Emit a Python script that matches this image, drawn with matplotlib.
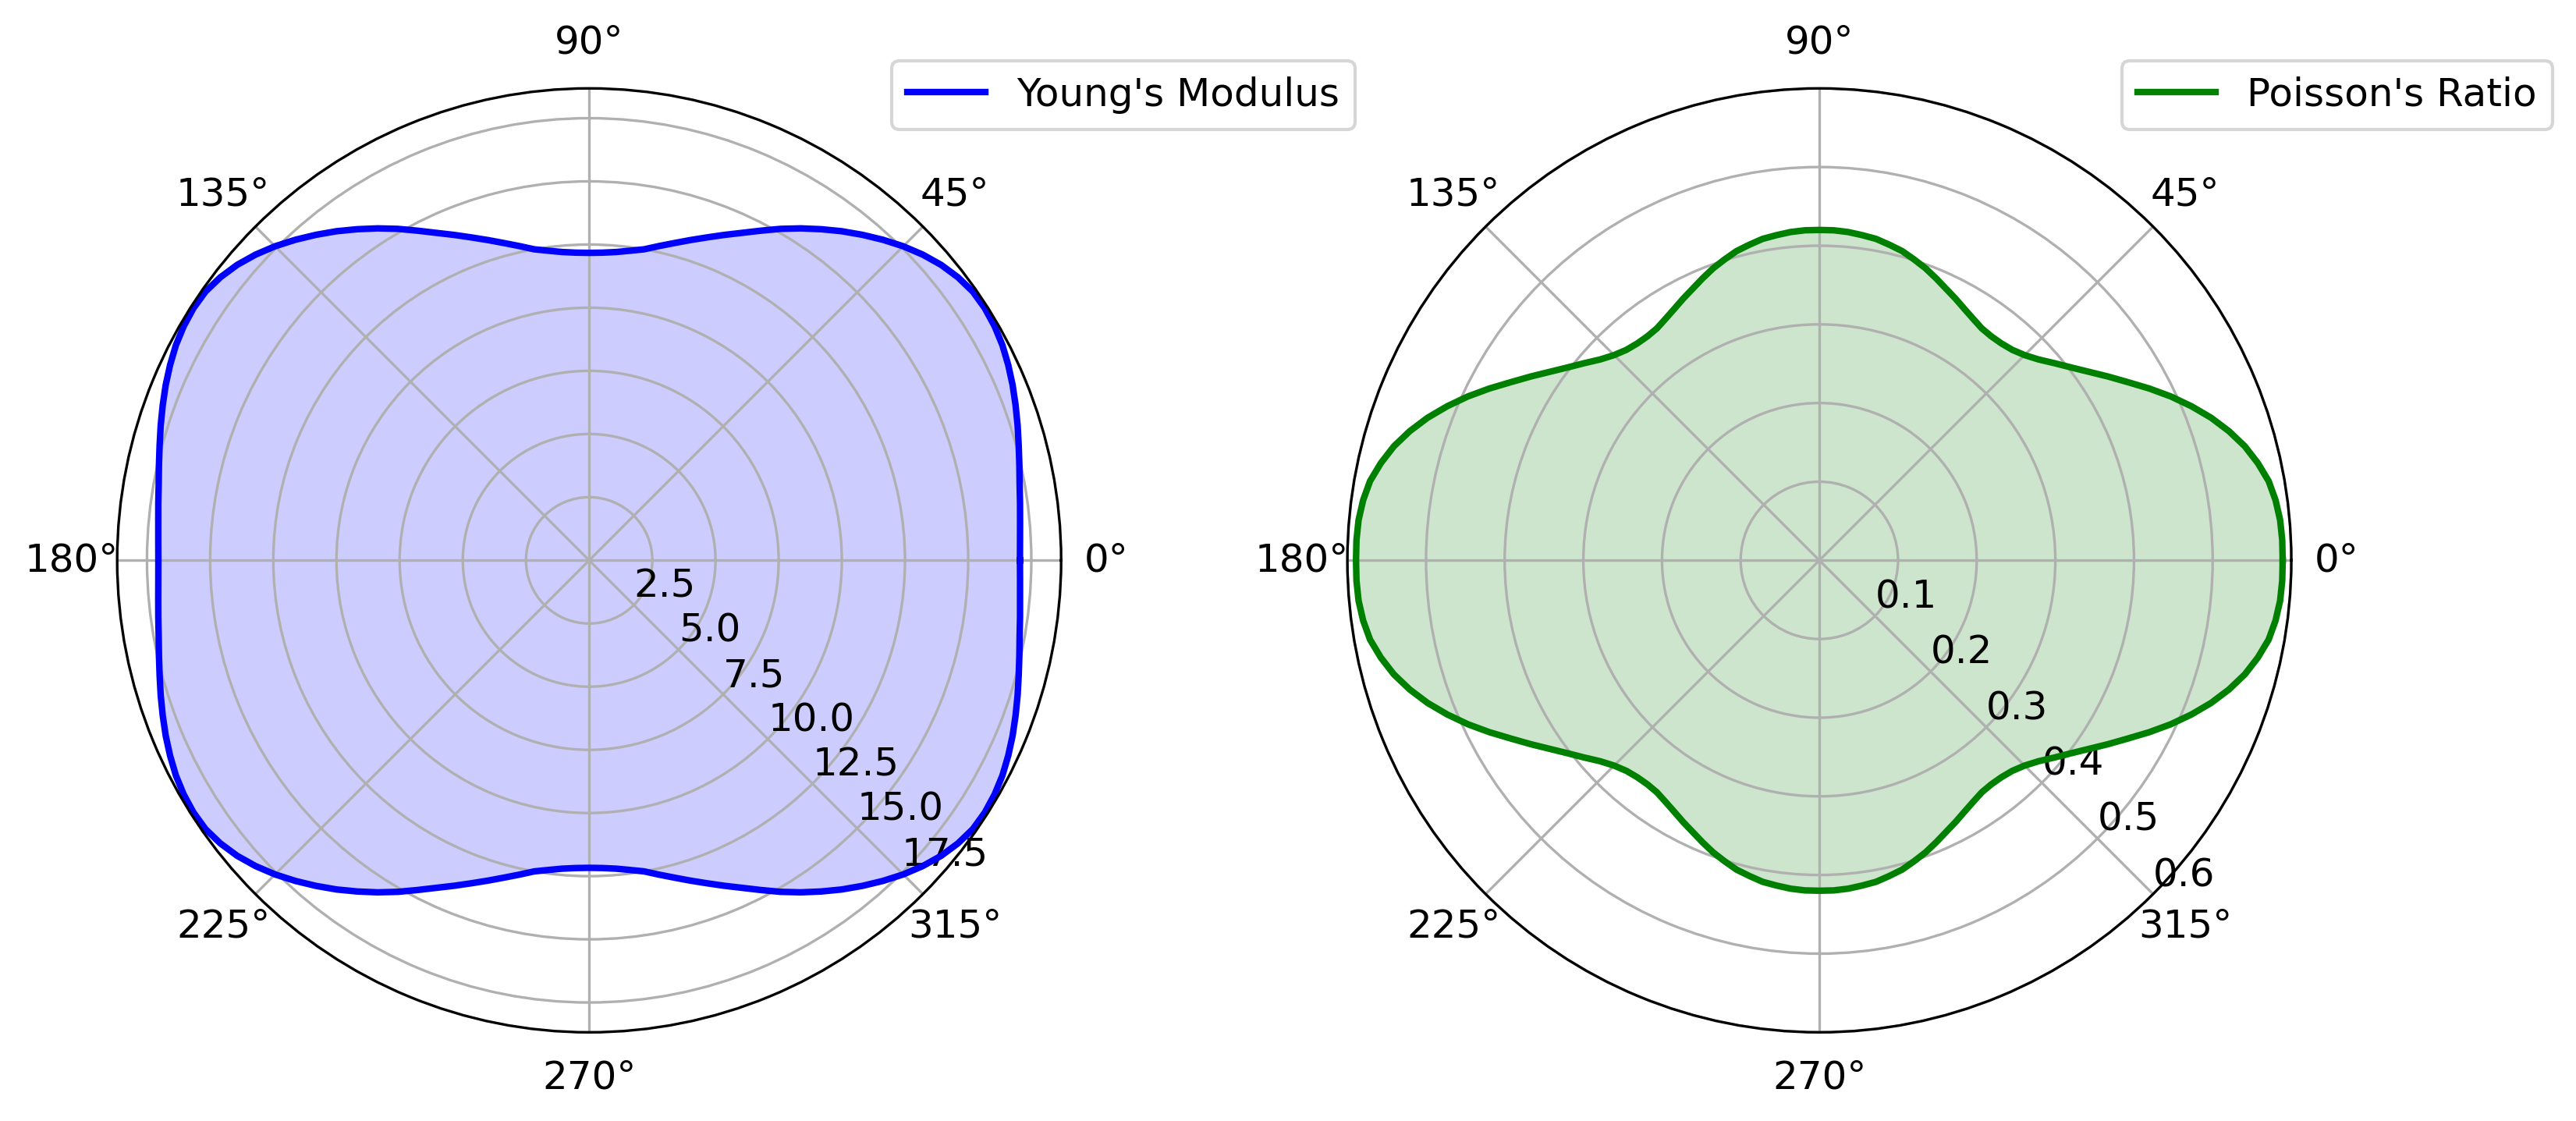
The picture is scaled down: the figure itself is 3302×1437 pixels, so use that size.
import numpy as np
import matplotlib
matplotlib.use("Agg")
import matplotlib.pyplot as plt

plt.rcParams['font.size'] = 12

# angles in degrees (0..360, step 2.5)
angles_deg = np.arange(0, 360.1, 2.5)

# Young's modulus, read per quarter turn
youngs_q1 = [17.05, 17.07, 17.12, 17.20, 17.30, 17.44, 17.60, 17.78, 17.96, 18.14,
             18.30, 18.44, 18.53, 18.57, 18.54, 18.40, 18.19, 17.91, 17.58, 17.21,
             16.82, 16.42, 16.00, 15.58, 15.15, 14.71, 14.30, 13.94, 13.60, 13.29,
             13.00, 12.74, 12.50, 12.36, 12.25, 12.19, 12.17]          # 0 .. 90
youngs_q2 = [12.19, 12.25, 12.36, 12.50, 12.74, 13.00, 13.29, 13.60, 13.94, 14.30,
             14.71, 15.15, 15.58, 16.00, 16.42, 16.82, 17.21, 17.58, 17.91, 18.19,
             18.40, 18.54, 18.57, 18.53, 18.44, 18.30, 18.14, 17.96, 17.78, 17.60,
             17.44, 17.30, 17.20, 17.12, 17.07, 17.05]                 # 92.5 .. 180
youngs_q3 = [17.07, 17.12, 17.20, 17.30, 17.44, 17.60, 17.78, 17.96, 18.14,
             18.30, 18.44, 18.53, 18.57, 18.54, 18.40, 18.19, 17.91, 17.58, 17.21,
             16.82, 16.42, 16.00, 15.58, 15.15, 14.71, 14.30, 13.94, 13.60, 13.29,
             13.00, 12.74, 12.50, 12.36, 12.25, 12.19, 12.17]          # 182.5 .. 270
youngs_q4 = [12.19, 12.25, 12.36, 12.50, 12.74, 13.00, 13.29, 13.60, 13.94, 14.30,
             14.71, 15.15, 15.58, 16.00, 16.42, 16.82, 17.21, 17.58, 17.91, 18.19,
             18.40, 18.54, 18.57, 18.53, 18.44, 18.30, 18.14, 17.96, 17.78, 17.60,
             17.44, 17.30, 17.20, 17.12, 17.07, 17.05]                 # 272.5 .. 360

# Poisson's ratio, read per quarter turn
poisson_q1 = [0.589, 0.589, 0.588, 0.585, 0.580, 0.571, 0.560, 0.546, 0.530, 0.512,
              0.493, 0.473, 0.453, 0.435, 0.418, 0.403, 0.390, 0.378, 0.369, 0.363,
              0.360, 0.359, 0.360, 0.364, 0.369, 0.375, 0.381, 0.388, 0.395, 0.401,
              0.407, 0.411, 0.415, 0.417, 0.419, 0.420, 0.420]
poisson_q2 = [0.420, 0.419, 0.417, 0.415, 0.411, 0.407, 0.401, 0.395, 0.388, 0.381,
              0.375, 0.369, 0.364, 0.360, 0.359, 0.360, 0.363, 0.369, 0.378, 0.390,
              0.403, 0.418, 0.435, 0.453, 0.473, 0.493, 0.512, 0.530, 0.546, 0.560,
              0.571, 0.580, 0.585, 0.588, 0.589, 0.589]
poisson_q3 = [0.589, 0.588, 0.585, 0.580, 0.571, 0.560, 0.546, 0.530, 0.512,
              0.493, 0.473, 0.453, 0.435, 0.418, 0.403, 0.390, 0.378, 0.369, 0.363,
              0.360, 0.359, 0.360, 0.364, 0.369, 0.375, 0.381, 0.388, 0.395, 0.401,
              0.407, 0.411, 0.415, 0.417, 0.419, 0.420, 0.420]
poisson_q4 = [0.420, 0.419, 0.417, 0.415, 0.411, 0.407, 0.401, 0.395, 0.388, 0.381,
              0.375, 0.369, 0.364, 0.360, 0.359, 0.360, 0.363, 0.369, 0.378, 0.390,
              0.403, 0.418, 0.435, 0.453, 0.473, 0.493, 0.512, 0.530, 0.546, 0.560,
              0.571, 0.580, 0.585, 0.588, 0.589, 0.589]

youngs_modulus = youngs_q1 + youngs_q2 + youngs_q3 + youngs_q4
poissons_ratio = poisson_q1 + poisson_q2 + poisson_q3 + poisson_q4

labels = ["Young's Modulus", "Poisson's Ratio"]

W, H = 3302, 1437
fig = plt.figure(figsize=(W / 300, H / 300), dpi=300)

side = 1210
ax1 = fig.add_axes([150.2 / W, 113.7 / H, side / W, side / H], projection='polar')
ax2 = fig.add_axes([1727.1 / W, 113.7 / H, side / W, side / H], projection='polar')

theta = np.deg2rad(angles_deg)

ax1.plot(theta, youngs_modulus, color='blue', lw=2, label=labels[0])
ax1.fill(theta, youngs_modulus, color='blue', alpha=0.2)
ax1.set_ylim(0, 18.68)
ax1.set_rlabel_position(-45)
ax1.legend(loc='upper left', bbox_to_anchor=(0.8, 1.05))

ax2.plot(theta, poissons_ratio, color='green', lw=2, label=labels[1])
ax2.fill(theta, poissons_ratio, color='green', alpha=0.2)
ax2.set_ylim(0, 0.6)
ax2.set_rlabel_position(-45)
ax2.legend(loc='upper left', bbox_to_anchor=(0.8, 1.05))

fig.savefig('out.png', dpi=300)
